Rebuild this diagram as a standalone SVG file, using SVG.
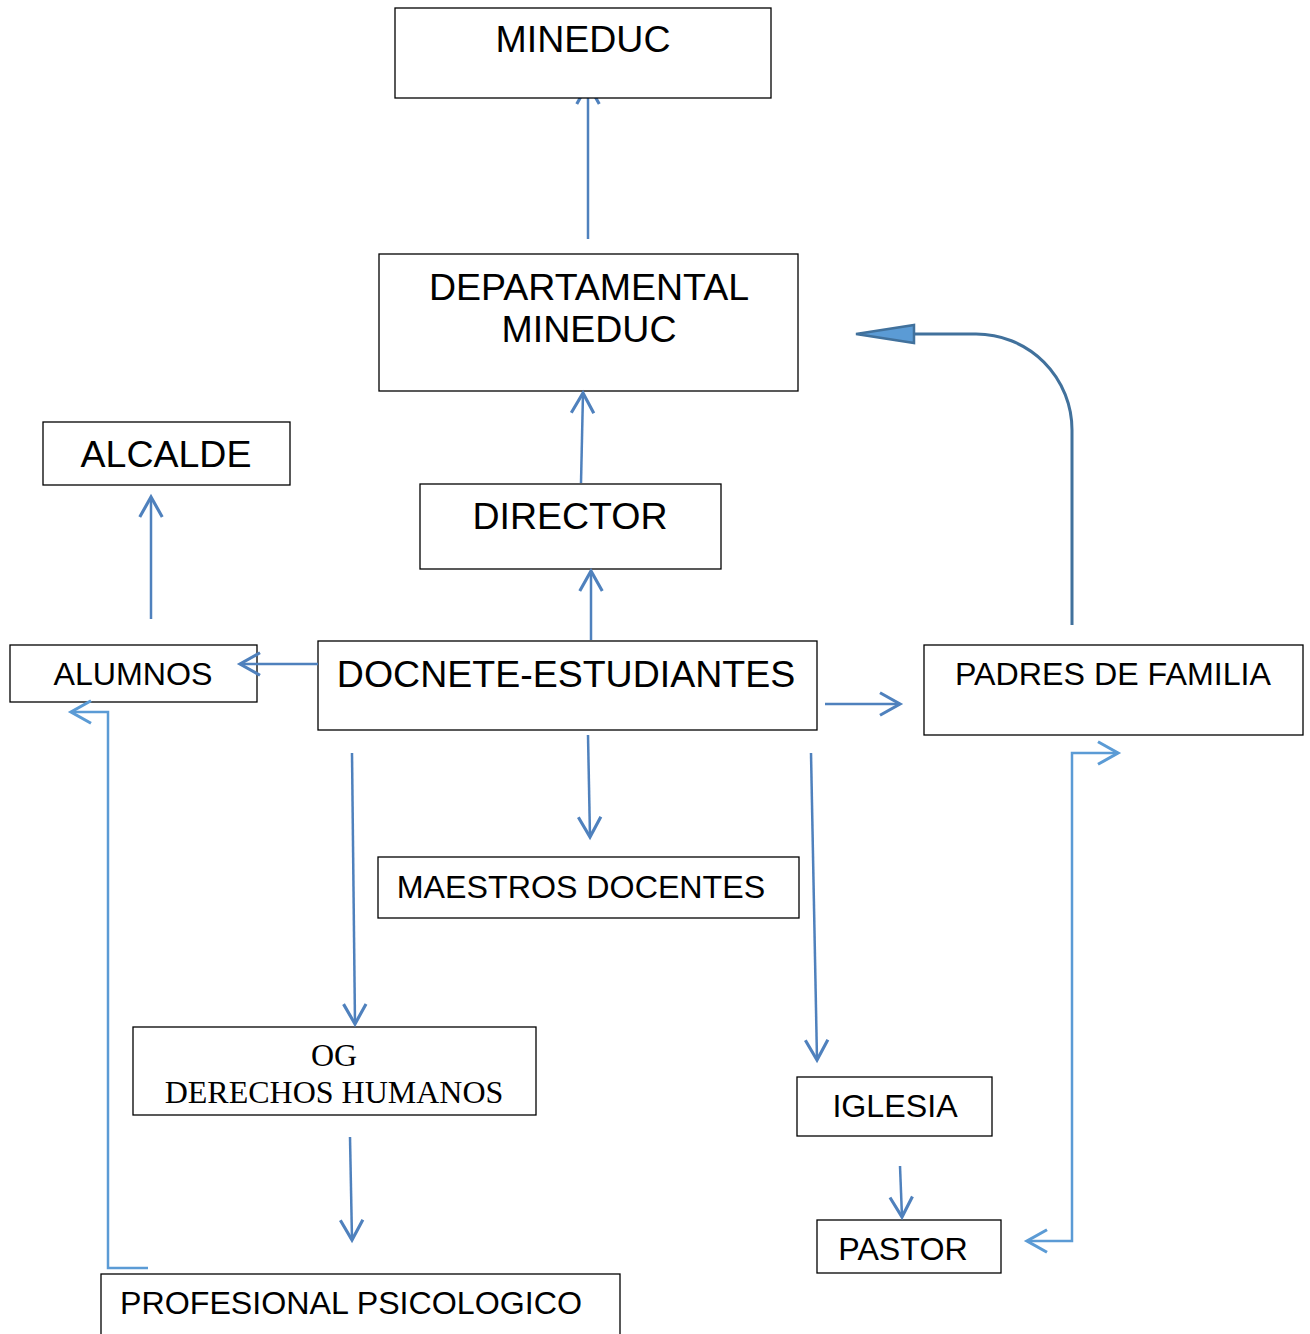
<svg xmlns="http://www.w3.org/2000/svg" width="1310" height="1334" viewBox="0 0 1310 1334">
<style>
.box{fill:#fff;stroke:#000;stroke-width:1.3}
.t{font-family:"Liberation Sans",Arial,sans-serif;fill:#000;text-anchor:middle}
.big{font-size:37.5px}
.mid{font-size:32.2px}
.serif{font-family:"Liberation Serif","Times New Roman",serif;font-size:32px;fill:#000;text-anchor:middle}
.c{fill:none;stroke:#4F81BD;stroke-width:2.5}
.e{fill:none;stroke:#5B9BD5;stroke-width:2.5}
</style>
<defs>
<marker id="a" markerUnits="userSpaceOnUse" markerWidth="30" markerHeight="30" viewBox="-20 -12 24 24" refX="0" refY="0" orient="auto" overflow="visible">
<path d="M-16,-9 L0,0 L-16,9" fill="none" stroke="#4F81BD" stroke-width="2.5"/>
</marker>
<marker id="b" markerUnits="userSpaceOnUse" markerWidth="30" markerHeight="30" viewBox="-20 -12 24 24" refX="0" refY="0" orient="auto" overflow="visible">
<path d="M-16,-9 L0,0 L-16,9" fill="none" stroke="#5B9BD5" stroke-width="2.5"/>
</marker>
<marker id="bs" markerUnits="userSpaceOnUse" markerWidth="30" markerHeight="30" viewBox="-20 -12 24 24" refX="0" refY="0" orient="auto-start-reverse" overflow="visible">
<path d="M-16,-9 L0,0 L-16,9" fill="none" stroke="#5B9BD5" stroke-width="2.5"/>
</marker>
</defs>
<g id="departamental"><rect class="box" x="379" y="254" width="419" height="137"/><text class="t big" x="589" y="300" font-size="38">DEPARTAMENTAL</text><text class="t big" x="589" y="342">MINEDUC</text></g>
<g id="alcalde"><rect class="box" x="43" y="422" width="247" height="63"/><text class="t big" x="166" y="467">ALCALDE</text></g>
<g id="director"><rect class="box" x="420" y="484" width="301" height="85"/><text class="t big" x="570" y="529">DIRECTOR</text></g>
<g id="docente"><rect class="box" x="318" y="641" width="499" height="89"/><text class="t big" x="566" y="687">DOCNETE-ESTUDIANTES</text></g>
<g id="alumnos"><rect class="box" x="10" y="645" width="247" height="57"/><text class="t mid" x="133" y="685">ALUMNOS</text></g>
<g id="padres"><rect class="box" x="924" y="645" width="379" height="90"/><text class="t mid" x="1113" y="685">PADRES DE FAMILIA</text></g>
<g id="maestros"><rect class="box" x="378" y="857" width="421" height="61"/><text class="t mid" x="581" y="898">MAESTROS DOCENTES</text></g>
<g id="og"><rect class="box" x="133" y="1027" width="403" height="88"/><text class="serif" x="334" y="1066">OG</text><text class="serif" x="334" y="1103">DERECHOS HUMANOS</text></g>
<g id="iglesia"><rect class="box" x="797" y="1077" width="195" height="59"/><text class="t mid" x="895" y="1117">IGLESIA</text></g>
<g id="pastor"><rect class="box" x="817" y="1220" width="184" height="53"/><text class="t mid" x="903" y="1260">PASTOR</text></g>
<g id="profesional"><rect class="box" x="101" y="1274" width="519" height="70"/><text class="t mid" x="351" y="1314">PROFESIONAL PSICOLOGICO</text></g>
<g id="connectors">
<line class="c" x1="588" y1="239" x2="588" y2="84" marker-end="url(#a)"/>
<line class="c" x1="581" y1="483" x2="583" y2="393" marker-end="url(#a)"/>
<line class="c" x1="591" y1="640" x2="591" y2="571" marker-end="url(#a)"/>
<line class="c" x1="151" y1="619" x2="151" y2="497" marker-end="url(#a)"/>
<line class="c" x1="318" y1="664" x2="240" y2="664" marker-end="url(#a)"/>
<line class="c" x1="825" y1="704" x2="900" y2="704" marker-end="url(#a)"/>
<line class="c" x1="588" y1="735" x2="590" y2="837" marker-end="url(#a)"/>
<line class="c" x1="352" y1="753" x2="355" y2="1024" marker-end="url(#a)"/>
<line class="c" x1="811" y1="753" x2="817" y2="1060" marker-end="url(#a)"/>
<line class="c" x1="900" y1="1166" x2="902" y2="1217" marker-end="url(#a)"/>
<line class="c" x1="350" y1="1137" x2="352" y2="1240" marker-end="url(#a)"/>
<polyline class="e" points="148,1268 108,1268 108,712 71,712" marker-end="url(#b)"/>
<polyline class="e" points="1118,753 1072,753 1072,1241 1027,1241" marker-start="url(#bs)" marker-end="url(#bs)"/>
<path d="M1072,625 L1072,430 A96,96 0 0 0 976,334 L915,334" fill="none" stroke="#41719C" stroke-width="3"/>
<polygon points="856,334 914,325 914,343" fill="#5B9BD5" stroke="#41719C" stroke-width="2.5"/>
</g>
<g id="mineduc"><rect class="box" x="395" y="8" width="376" height="90"/><text class="t big" x="583" y="52">MINEDUC</text></g>
</svg>
